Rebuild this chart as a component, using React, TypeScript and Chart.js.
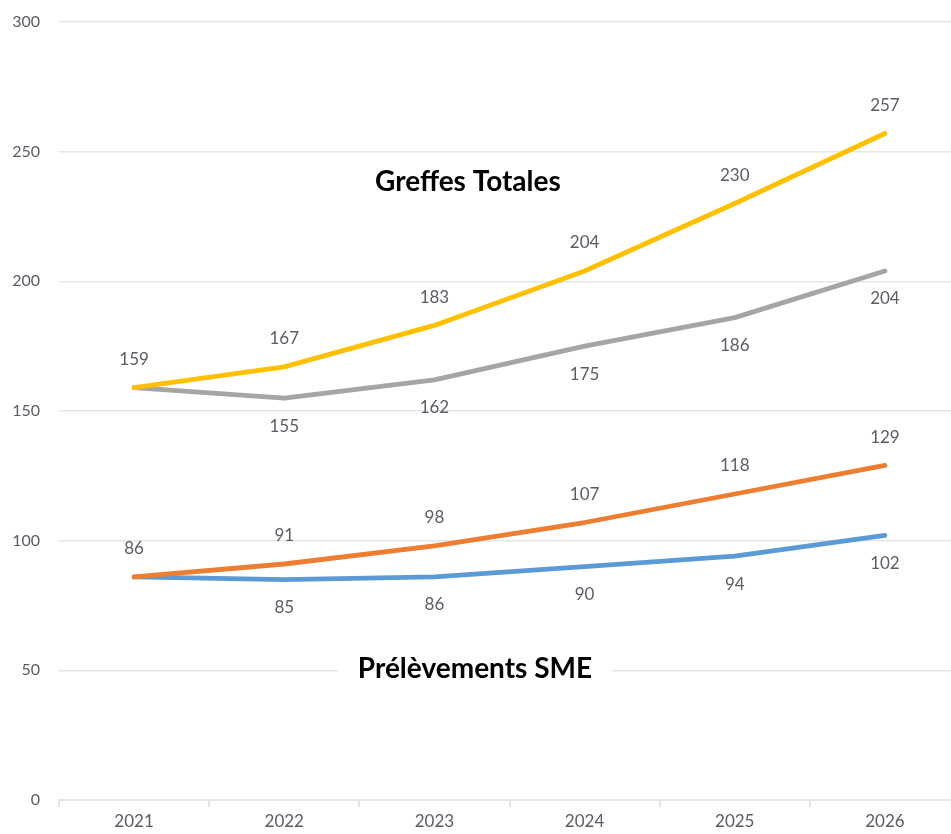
import React, { useEffect, useRef } from 'react';
import { Chart, registerables } from 'chart.js';

Chart.register(...registerables);

const years = ['2021', '2022', '2023', '2024', '2025', '2026'];
const greffesHaut = [159, 167, 183, 204, 230, 257];
const greffesBas = [159, 155, 162, 175, 186, 204];
const prelevementsHaut = [86, 91, 98, 107, 118, 129];
const prelevementsBas = [86, 85, 86, 90, 94, 102];
const yMin = 0;
const yMax = 300;
const yStep = 50;

const noteTexts = ['Greffes Totales', 'Prélèvements SME'];
const noteX = [2.223, 2.27];
const noteY = [238.3, 50.5];

const FONT = 'Lato, "Open Sans", sans-serif';
const TEXT = '#595d66';
const GRID = '#e2e5ea';

const valueLabels = {
  id: 'valueLabels',
  afterDatasetsDraw(chart: any) {
    const ctx = chart.ctx;
    ctx.save();
    ctx.font = `17px ${FONT}`;
    ctx.fillStyle = TEXT;
    ctx.textAlign = 'center';
    ctx.textBaseline = 'middle';
    chart.data.datasets.forEach((ds: any, i: number) => {
      const meta = chart.getDatasetMeta(i);
      const skip: number[] = ds.skipLabels || [];
      meta.data.forEach((pt: any, j: number) => {
        if (skip.includes(j)) return;
        const off = ds.labelSide === 'above' ? -28 : 28;
        ctx.fillText(String(ds.data[j]), pt.x, pt.y + off);
      });
    });
    ctx.restore();
  },
};

const notes = {
  id: 'notes',
  afterDraw(chart: any) {
    const ctx = chart.ctx;
    const xs = chart.scales.x;
    const ys = chart.scales.y;
    ctx.save();
    ctx.font = `bold 28px ${FONT}`;
    ctx.textAlign = 'center';
    ctx.textBaseline = 'middle';
    noteTexts.forEach((t, i) => {
      const x = xs.getPixelForValue(noteX[i]);
      const y = ys.getPixelForValue(noteY[i]);
      const w = ctx.measureText(t).width;
      ctx.fillStyle = '#ffffff';
      ctx.fillRect(x - w / 2 - 20, y - 18, w + 40, 36);
      ctx.fillStyle = '#000000';
      ctx.fillText(t, x, y);
    });
    ctx.restore();
  },
};

export default function App() {
  const ref = useRef<HTMLCanvasElement | null>(null);

  useEffect(() => {
    if (!ref.current) return;
    const line = (label: string, data: number[], color: string, side: string, skip: number[]) => ({
      label,
      data,
      borderColor: color,
      backgroundColor: color,
      borderWidth: 4.8,
      pointRadius: 0,
      tension: 0,
      borderCapStyle: 'round',
      borderJoinStyle: 'round',
      labelSide: side,
      skipLabels: skip,
    });
    const chart = new Chart(ref.current, {
      type: 'line',
      data: {
        labels: years,
        datasets: [
          line('Greffes totales (haut)', greffesHaut, '#FFC000', 'above', []),
          line('Greffes totales (bas)', greffesBas, '#A5A5A5', 'below', [0]),
          line('Prélèvements SME (haut)', prelevementsHaut, '#ED7D31', 'above', []),
          line('Prélèvements SME (bas)', prelevementsBas, '#5B9BD5', 'below', [0]),
        ] as any,
      },
      options: {
        responsive: false,
        animation: false,
        layout: { padding: { top: 22, right: 0, left: 0, bottom: 0 } },
        plugins: { legend: { display: false }, tooltip: { enabled: false } },
        scales: {
          x: {
            offset: true,
            grid: { offset: true, drawOnChartArea: false, drawTicks: true, tickLength: 7, color: GRID, lineWidth: 2 },
            border: { color: GRID, width: 2 },
            ticks: { color: TEXT, font: { family: FONT, size: 17 }, padding: 4 },
            afterFit(scale: any) {
              scale.height = 34;
            },
          },
          y: {
            min: yMin,
            max: yMax,
            ticks: { stepSize: yStep, color: TEXT, font: { family: FONT, size: 16 }, padding: 19 },
            grid: { color: GRID, lineWidth: 1.5, drawTicks: false },
            border: { display: false },
            afterFit(scale: any) {
              scale.width = 59;
              scale.paddingTop = 0;
              scale.paddingBottom = 0;
            },
          },
        },
      } as any,
      plugins: [valueLabels, notes],
    });
    return () => chart.destroy();
  }, []);

  return (
    <div style={{ position: 'fixed', left: 0, top: 0, width: 951, height: 834, overflow: 'hidden', background: '#fff' }}>
      <canvas ref={ref} width={960} height={834} style={{ display: 'block' }} />
    </div>
  );
}
